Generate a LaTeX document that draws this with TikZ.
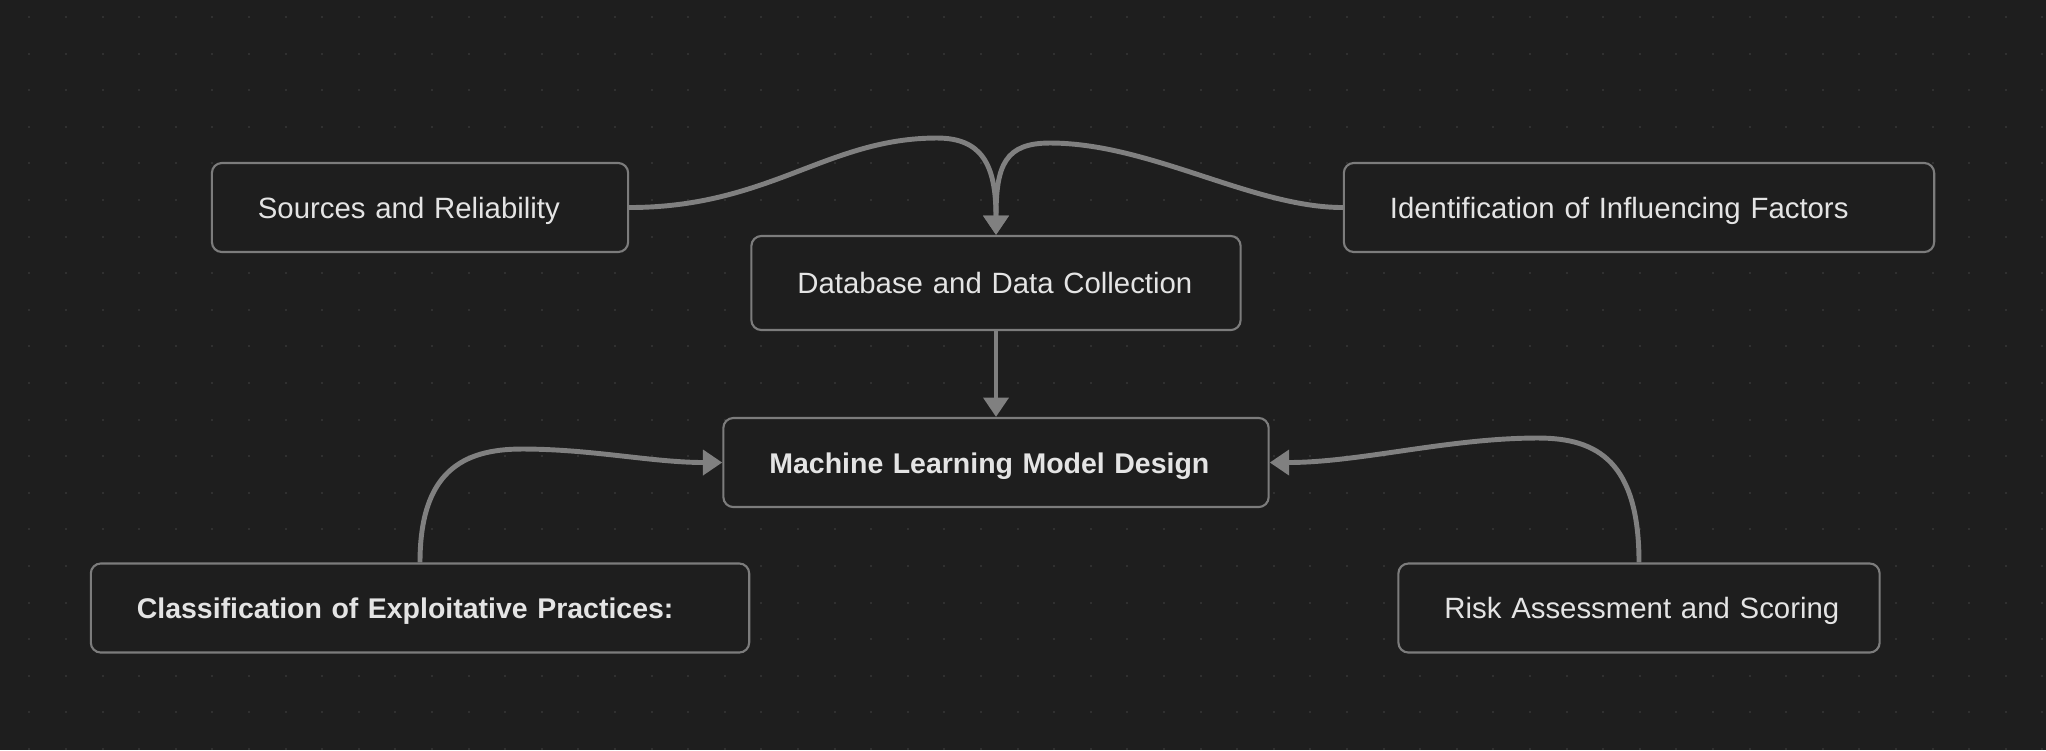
\documentclass[tikz,border=0pt]{standalone}
\usepackage{fontspec}
\setmainfont{Liberation Sans}
\usetikzlibrary{arrows.meta}
\definecolor{canvas}{HTML}{1E1E1E}
\definecolor{griddot}{HTML}{303030}
\definecolor{frame}{HTML}{7C7C7C}
\definecolor{wire}{HTML}{808080}
\definecolor{label}{HTML}{E4E4E4}
\tikzset{
  box/.style={draw=frame, line width=0.6pt, fill=canvas, rounded corners=0.1cm,
    text=label, align=left, inner xsep=0.46cm, inner ysep=0pt,
    text height=6pt, text depth=0pt,
    minimum height=0.89cm, font=\fontsize{8.35}{10}\selectfont},
  boldbox/.style={box, font=\fontsize{8.1}{10}\selectfont\bfseries},
  link/.style={wire, line width=1.4pt, -{Triangle[width=7pt,length=5.5pt]}},
}
\begin{document}
\begin{tikzpicture}[x=0.01cm, y=-0.01cm]
\fill[canvas] (0,0) rectangle (2046,750);
\useasboundingbox (0,0) rectangle (2046,750);
\foreach \i in {0,...,55}
  \foreach \j in {0,...,20}
    \fill[griddot] ({28.3+36.6*\i},{16+36.6*\j}) rectangle ++(2,2);
% boxes
\node[box, text width=3.24cm] (src) at (420,207.5) {\mbox{Sources and Reliability}};
\node[box, text width=4.98cm] (idf) at (1639,207.5) {\mbox{Identification of Influencing Factors}};
\node[box, text width=3.97cm, minimum height=0.94cm] (db) at (996,283) {\mbox{Database and Data Collection}};
\node[boldbox, text width=4.53cm] (ml) at (996,462.5) {\mbox{Machine Learning Model Design}};
\node[boldbox, text width=5.66cm] (cls) at (420,608) {\mbox{Classification of Exploitative Practices:}};
\node[box, text width=3.89cm] (risk) at (1639,608) {\mbox{Risk Assessment and Scoring}};
% bends of the curves
\coordinate (pk1) at (937,138);
\coordinate (pk2) at (1050,143);
\coordinate (pk3) at (522,449);
\coordinate (pk4) at (1538,438);
% links
\draw[link] (src.east) .. controls +(140,0) and +(-110,0) .. (pk1)
  .. controls +(45,0) and +(0,-70) .. (db.north);
\draw[link] (idf.west) .. controls +(-90,0) and +(100,0) .. (pk2)
  .. controls +(-45,0) and +(0,-70) .. (db.north);
\draw[link] (db.south) -- (ml.north);
\draw[link] (cls.north) .. controls +(0,-90) and +(-60,0) .. (pk3)
  .. controls +(70,0) and +(-70,0) .. (ml.west);
\draw[link] (risk.north) .. controls +(0,-100) and +(60,0) .. (pk4)
  .. controls +(-90,0) and +(90,0) .. (ml.east);
\end{tikzpicture}
\end{document}
